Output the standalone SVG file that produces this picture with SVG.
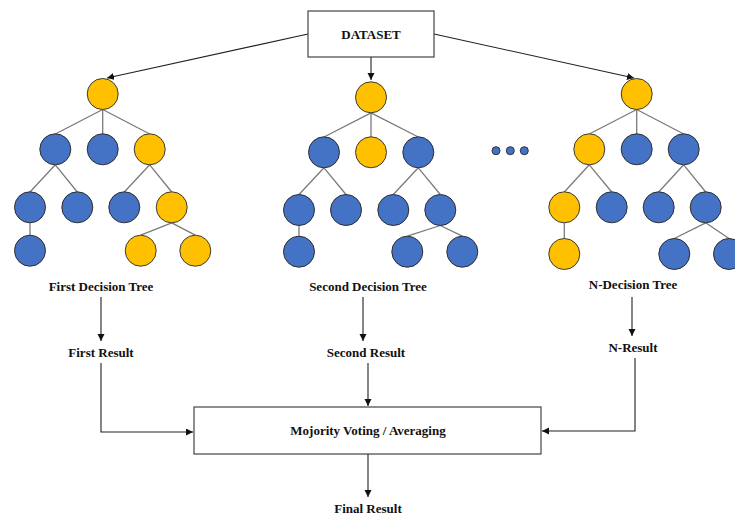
<svg xmlns="http://www.w3.org/2000/svg" width="735" height="515" viewBox="0 0 735 515">
<style>
.y{fill:#FFC000;stroke:#3a3a3a;stroke-width:1}
.b{fill:#4472C4;stroke:#2f2f2f;stroke-width:1}
.e{stroke:#7a7a7a;stroke-width:1.3;fill:none}
.c{stroke:#222;stroke-width:1.1;fill:none}
.box{fill:#fff;stroke:#444;stroke-width:1.2}
text{font-family:"Liberation Serif","Times New Roman",serif;font-weight:bold;font-size:13px;fill:#111;text-anchor:middle}
</style>
<defs>
<marker id="ah" markerUnits="userSpaceOnUse" markerWidth="8" markerHeight="8" refX="7" refY="3.5" orient="auto">
<path d="M0,0 L7,3.5 L0,7 z" fill="#111"/>
</marker>
</defs>
<rect width="735" height="515" fill="#fff"/>

<g id="connectors">
<line class="c" x1="308" y1="34" x2="107" y2="78" marker-end="url(#ah)"/>
<line class="c" x1="371" y1="57" x2="371" y2="80" marker-end="url(#ah)"/>
<line class="c" x1="434" y1="34" x2="634" y2="78" marker-end="url(#ah)"/>
<line class="c" x1="101" y1="297" x2="101" y2="341" marker-end="url(#ah)"/>
<line class="c" x1="363" y1="297" x2="363" y2="341" marker-end="url(#ah)"/>
<line class="c" x1="632" y1="297" x2="632" y2="336" marker-end="url(#ah)"/>
<polyline class="c" points="101,363 101,432 193,432" marker-end="url(#ah)"/>
<line class="c" x1="368" y1="363" x2="368" y2="406" marker-end="url(#ah)"/>
<polyline class="c" points="635,358 635,431 542,431" marker-end="url(#ah)"/>
<line class="c" x1="368" y1="454" x2="368" y2="497" marker-end="url(#ah)"/>
</g>

<g id="dataset">
<rect class="box" x="308" y="11" width="126" height="46"/>
<text x="371" y="39">DATASET</text>
</g>

<g id="tree1">
<g class="edges">
<line class="e" x1="102.7" y1="109.5" x2="55.3" y2="134"/>
<line class="e" x1="102.7" y1="109.5" x2="102.7" y2="134"/>
<line class="e" x1="102.7" y1="109.5" x2="149.7" y2="134"/>
<line class="e" x1="55.3" y1="164.8" x2="30" y2="192"/>
<line class="e" x1="55.3" y1="164.8" x2="77.3" y2="192"/>
<line class="e" x1="149.7" y1="164.8" x2="124.3" y2="192"/>
<line class="e" x1="149.7" y1="164.8" x2="171.7" y2="192"/>
<line class="e" x1="30" y1="222.8" x2="30" y2="235.2"/>
<line class="e" x1="171.7" y1="222.8" x2="140.7" y2="235.2"/>
<line class="e" x1="171.7" y1="222.8" x2="195.3" y2="235.2"/>
</g>
<circle class="y" cx="102.7" cy="94" r="15.5"/>
<circle class="b" cx="55.3" cy="149.3" r="15.5"/>
<circle class="b" cx="102.7" cy="149.3" r="15.5"/>
<circle class="y" cx="149.7" cy="149.3" r="15.5"/>
<circle class="b" cx="30" cy="207.3" r="15.5"/>
<circle class="b" cx="77.3" cy="207.3" r="15.5"/>
<circle class="b" cx="124.3" cy="207.3" r="15.5"/>
<circle class="y" cx="171.7" cy="207.3" r="15.5"/>
<circle class="b" cx="30" cy="250.7" r="15.5"/>
<circle class="y" cx="140.7" cy="250.7" r="15.5"/>
<circle class="y" cx="195.3" cy="250.7" r="15.5"/>
</g>

<g id="tree2">
<g class="edges">
<line class="e" x1="371" y1="112.8" x2="324" y2="137"/>
<line class="e" x1="371" y1="112.8" x2="371" y2="137"/>
<line class="e" x1="371" y1="112.8" x2="418.3" y2="137"/>
<line class="e" x1="324" y1="167.8" x2="299" y2="194.5"/>
<line class="e" x1="324" y1="167.8" x2="346" y2="194.5"/>
<line class="e" x1="418.3" y1="167.8" x2="393.3" y2="194.5"/>
<line class="e" x1="418.3" y1="167.8" x2="440.3" y2="194.5"/>
<line class="e" x1="299" y1="225.5" x2="299" y2="236.2"/>
<line class="e" x1="440.3" y1="225.5" x2="407.3" y2="236.2"/>
<line class="e" x1="440.3" y1="225.5" x2="462.3" y2="236.2"/>
</g>
<circle class="y" cx="371" cy="97.3" r="15.5"/>
<circle class="b" cx="324" cy="152.3" r="15.5"/>
<circle class="y" cx="371" cy="152.3" r="15.5"/>
<circle class="b" cx="418.3" cy="152.3" r="15.5"/>
<circle class="b" cx="299" cy="210" r="15.5"/>
<circle class="b" cx="346" cy="210" r="15.5"/>
<circle class="b" cx="393.3" cy="210" r="15.5"/>
<circle class="b" cx="440.3" cy="210" r="15.5"/>
<circle class="b" cx="299" cy="251.7" r="15.5"/>
<circle class="b" cx="407.3" cy="251.7" r="15.5"/>
<circle class="b" cx="462.3" cy="251.7" r="15.5"/>
</g>

<g id="dots">
<circle class="b" cx="496" cy="150.7" r="4"/>
<circle class="b" cx="510.3" cy="150.7" r="4"/>
<circle class="b" cx="524.3" cy="150.7" r="4"/>
</g>

<g id="tree3">
<g class="edges">
<line class="e" x1="636.7" y1="109.5" x2="589.3" y2="134"/>
<line class="e" x1="636.7" y1="109.5" x2="636.7" y2="134"/>
<line class="e" x1="636.7" y1="109.5" x2="683.7" y2="134"/>
<line class="e" x1="589.3" y1="164.8" x2="564.3" y2="192"/>
<line class="e" x1="589.3" y1="164.8" x2="611.7" y2="192"/>
<line class="e" x1="683.7" y1="164.8" x2="658.7" y2="192"/>
<line class="e" x1="683.7" y1="164.8" x2="705.7" y2="192"/>
<line class="e" x1="564.3" y1="222.8" x2="564.3" y2="238.5"/>
<line class="e" x1="705.7" y1="222.8" x2="674.3" y2="238.5"/>
<line class="e" x1="705.7" y1="222.8" x2="729" y2="238.5"/>
</g>
<circle class="y" cx="636.7" cy="94" r="15.5"/>
<circle class="y" cx="589.3" cy="149.3" r="15.5"/>
<circle class="b" cx="636.7" cy="149.3" r="15.5"/>
<circle class="b" cx="683.7" cy="149.3" r="15.5"/>
<circle class="y" cx="564.3" cy="207.3" r="15.5"/>
<circle class="b" cx="611.7" cy="207.3" r="15.5"/>
<circle class="b" cx="658.7" cy="207.3" r="15.5"/>
<circle class="b" cx="705.7" cy="207.3" r="15.5"/>
<circle class="y" cx="564.3" cy="254" r="15.5"/>
<circle class="b" cx="674.3" cy="254" r="15.5"/>
<circle class="b" cx="729" cy="254" r="15.5"/>
</g>

<g id="label-first-tree"><text x="101" y="290.5">First Decision Tree</text></g>
<g id="label-second-tree"><text x="368" y="290.5">Second Decision Tree</text></g>
<g id="label-n-tree"><text x="633" y="289">N-Decision Tree</text></g>
<g id="first-result"><text x="101" y="357">First Result</text></g>
<g id="second-result"><text x="366" y="357">Second Result</text></g>
<g id="n-result"><text x="633" y="351.5">N-Result</text></g>

<g id="voting">
<rect class="box" x="194" y="407" width="347" height="47"/>
<text x="368" y="435">Mojority Voting / Averaging</text>
</g>

<g id="final-result"><text x="368" y="513">Final Result</text></g>
</svg>
